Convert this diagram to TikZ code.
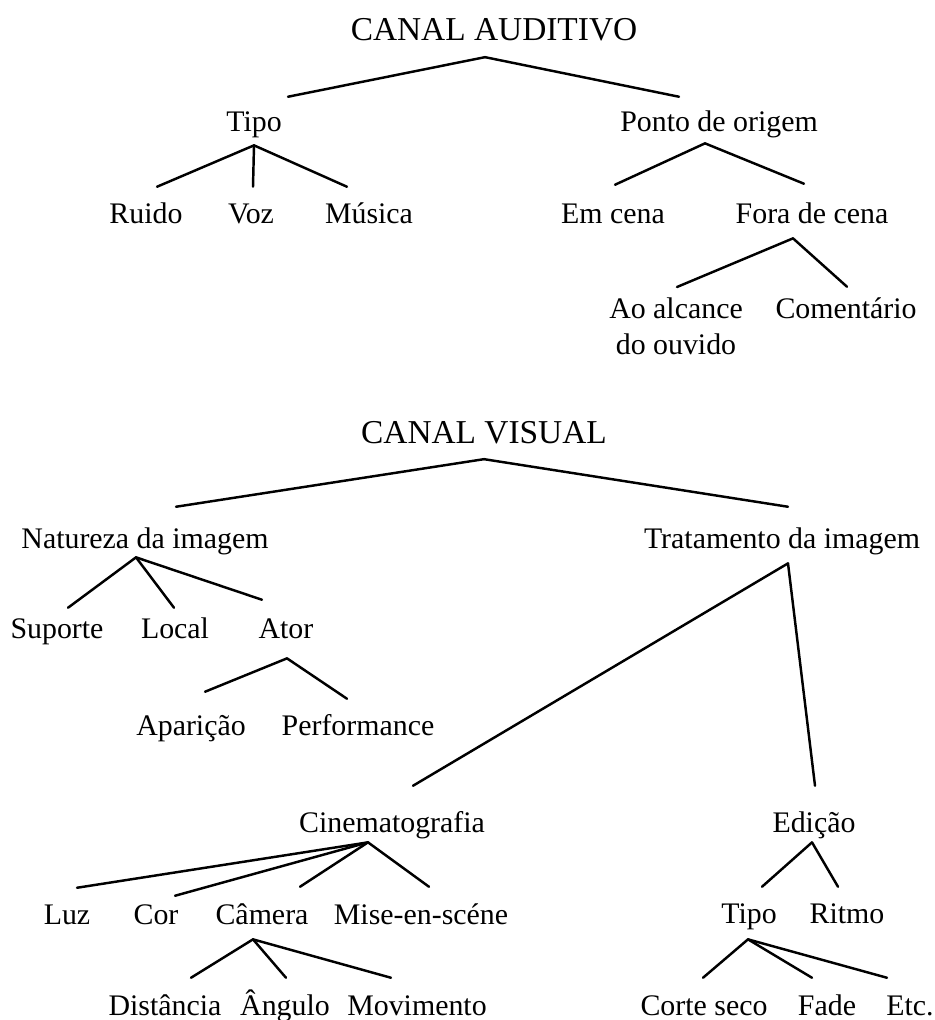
\documentclass[tikz,border=0pt]{standalone}
\usepackage{fontspec}
\setmainfont{Liberation Serif}
\usetikzlibrary{calc}

\begin{document}
\begin{tikzpicture}[
    x=0.02cm, y=-0.02cm,
    txt/.style={font=\fontsize{17}{21}\selectfont, inner sep=0pt, anchor=base, text height=21pt, text depth=7.4pt},
    txtml/.style={font=\fontsize{17}{21}\selectfont, inner sep=0pt, align=center},
    head/.style={txt, font=\fontsize{19}{23}\selectfont, text depth=9pt},
    branch/.style={line width=1.4pt, line cap=round}
]
    \useasboundingbox (0,0) rectangle (935,1020);

    % Canal auditivo
    \node[head] (auditivo) at (494,41) {CANAL AUDITIVO};
    \node[txt] (tipo) at (254,132) {Tipo};
    \node[txt] (origem) at (719,132) {Ponto de origem};
    \node[txt] (ruido) at (146,224) {Ruido};
    \node[txt] (voz) at (251,224) {Voz};
    \node[txt] (musica) at (369,224) {Música};
    \node[txt] (emcena) at (613,224) {Em cena};
    \node[txt] (fora) at (812,224) {Fora de cena};
    \node[txtml, anchor=north] (alcance) at (676,297) {Ao alcance\\do ouvido};
    \node[txt] (comentario) at (846,318) {Comentário};

    % Canal visual
    \node[head] (visual) at (484,443) {CANAL VISUAL};
    \node[txt] (natureza) at (145,548) {Natureza da imagem};
    \node[txt] (tratamento) at (782,548) {Tratamento da imagem};
    \node[txt] (suporte) at (57,638) {Suporte};
    \node[txt] (local) at (175,638) {Local};
    \node[txt] (ator) at (286,638) {Ator};
    \node[txt] (aparicao) at (191,735) {Aparição};
    \node[txt] (performance) at (358,735) {Performance};
    \node[txt] (cinema) at (392,832) {Cinematografia};
    \node[txt] (edicao) at (814,832) {Edição};
    \node[txt] (luz) at (67,924) {Luz};
    \node[txt] (cor) at (156,924) {Cor};
    \node[txt] (camera) at (262,924) {Câmera};
    \node[txt] (mise) at (421,924) {Mise-en-scéne};
    \node[txt] (tipoed) at (749,923) {Tipo};
    \node[txt] (ritmo) at (847,923) {Ritmo};
    \node[txt] (distancia) at (165,1015) {Distância};
    \node[txt] (angulo) at (285,1015) {Ângulo};
    \node[txt] (movimento) at (417,1015) {Movimento};
    \node[txt] (corte) at (704,1015) {Corte seco};
    \node[txt] (fade) at (827,1015) {Fade};
    \node[txt] (etc) at (910,1015) {Etc.};

    % Branches (child/xoffset/yoffset)
    \foreach \c/\dx/\dy in {tipo/34/2, origem/-40/2}
        \draw[branch] ($(auditivo.south)+(-9,0)$) -- ($(\c.north)+(\dx,\dy)$);
    \foreach \c/\dx/\dy in {ruido/11/0, voz/2/0, musica/-22/0}
        \draw[branch] (tipo.south) -- ($(\c.north)+(\dx,\dy)$);
    \foreach \c/\dx/\dy in {emcena/2/-2, fora/-8/-3}
        \draw[branch] ($(origem.south)+(-14,-2)$) -- ($(\c.north)+(\dx,\dy)$);
    \foreach \c/\dx/\dy in {alcance/1/-10, comentario/1/6}
        \draw[branch] ($(fora.south)+(-19,1)$) -- ($(\c.north)+(\dx,\dy)$);

    \foreach \c/\dx/\dy in {natureza/31/-4, tratamento/6/-4}
        \draw[branch] (visual.south) -- ($(\c.north)+(\dx,\dy)$);
    \foreach \c/\dx/\dy in {suporte/11/7, local/-1/7, ator/-24/-1}
        \draw[branch] ($(natureza.south)+(-9,-4)$) -- ($(\c.north)+(\dx,\dy)$);
    \foreach \c/\dx/\dy in {cinema/21/-9, edicao/1/-9}
        \draw[branch] ($(tratamento.south)+(6,2)$) -- ($(\c.north)+(\dx,\dy)$);
    \foreach \c/\dx/\dy in {aparicao/14/-6, performance/-11/1}
        \draw[branch] ($(ator.south)+(1,7)$) -- ($(\c.north)+(\dx,\dy)$);
    \foreach \c/\dx/\dy in {luz/10/1, cor/19/9, camera/38/0, mise/8/0}
        \draw[branch] ($(cinema.south)+(-24,-3)$) -- ($(\c.north)+(\dx,\dy)$);
    \foreach \c/\dx/\dy in {tipoed/13/1, ritmo/-9/1}
        \draw[branch] ($(edicao.south)+(-2,-3)$) -- ($(\c.north)+(\dx,\dy)$);
    \foreach \c/\dx/\dy in {distancia/26/0, angulo/1/0, movimento/-26/0}
        \draw[branch] ($(camera.south)+(-9,2)$) -- ($(\c.north)+(\dx,\dy)$);
    \foreach \c/\dx/\dy in {corte/-1/0, fade/-15/0, etc/-23/0}
        \draw[branch] ($(tipoed.south)+(-1,3)$) -- ($(\c.north)+(\dx,\dy)$);

\end{tikzpicture}
\end{document}
